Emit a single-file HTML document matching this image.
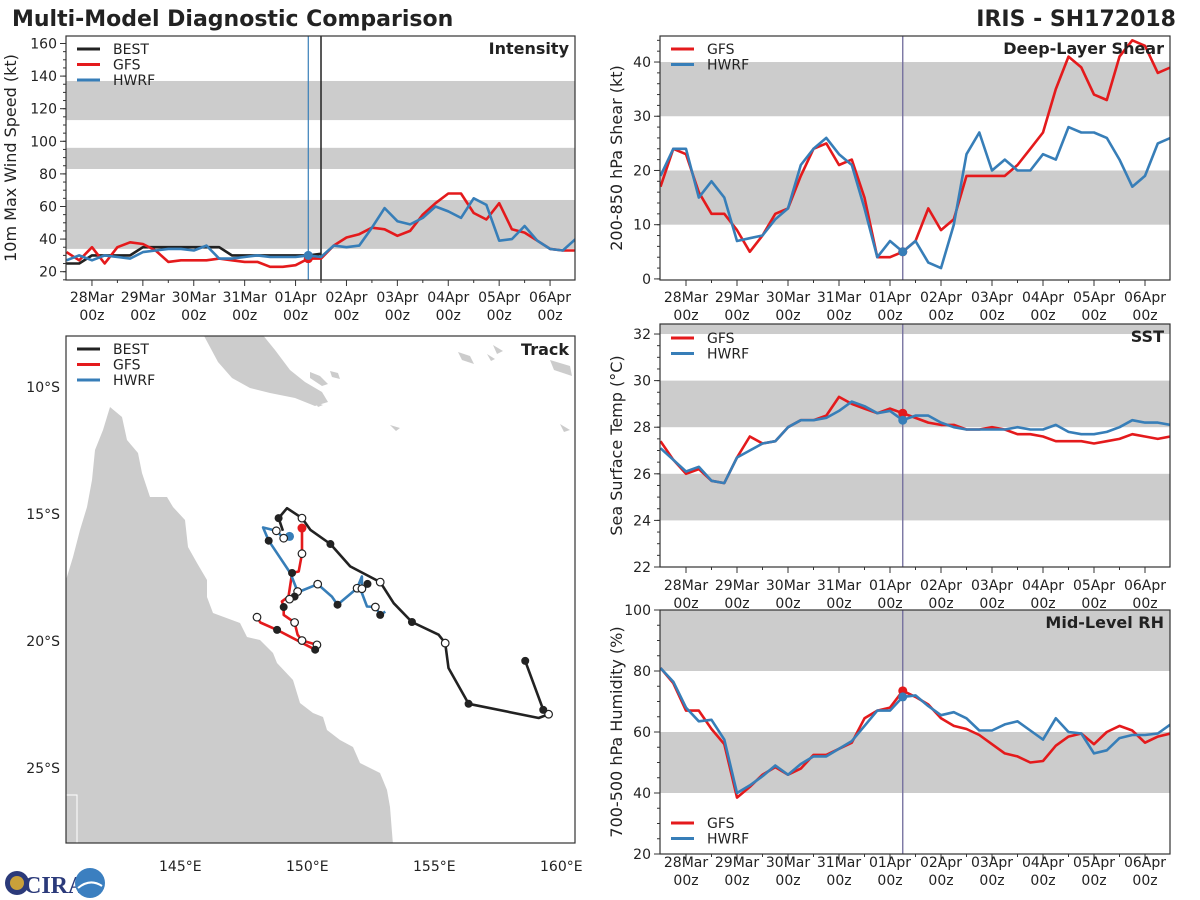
<!DOCTYPE html>
<html><head><meta charset="utf-8"><style>
html,body{margin:0;padding:0;background:#fff;}
svg{display:block;font-family:"DejaVu Sans","Liberation Sans",sans-serif;}
</style></head><body>
<svg id="chart" width="1200" height="900" viewBox="0 0 1200 900">
<rect x="0" y="0" width="1200" height="900" fill="#fff"/>
<text x="12" y="26" font-size="22" font-weight="bold" fill="#222">Multi-Model Diagnostic Comparison</text>
<text x="1176" y="26" font-size="22" font-weight="bold" fill="#222" text-anchor="end">IRIS - SH172018</text>
<g>
<circle cx="17" cy="883" r="12" fill="#2b3a7a"/>
<circle cx="17" cy="883" r="7" fill="#c9a03a"/>
<text x="24" y="893" font-size="24" font-weight="bold" fill="#2b3a7a" font-family="Liberation Serif, serif">CIRA</text>
<circle cx="90" cy="883" r="15" fill="#3b7fc0"/>
<path d="M78 888 Q90 878 102 886" stroke="#fff" stroke-width="2" fill="none"/>
</g>
</svg>
<script>
// ---------- data ----------
const dayLabels = ["28Mar","29Mar","30Mar","31Mar","01Apr","02Apr","03Apr","04Apr","05Apr","06Apr"];
const hourLabel = "00z";
const t0 = -0.5, dt = 0.25; // days since 28Mar 00z, 6-hourly

const intBest = [25,25,30,30,30,30,35,35,35,35,35,35,35,30,30,30,30,30,30,30,31];
const intGfs  = [32,27,35,25,35,38,37,33,26,27,27,27,28,27,26,26,23,23,24,28,28,36,41,43,47,46,42,45,55,62,68,68,56,52,62,46,44,39,34,33,33];
const intHwrf = [27,30,27,30,29,28,32,33,34,34,33,36,28,28,29,30,29,29,29,30,29,36,35,36,47,59,51,49,53,60,57,53,65,61,39,40,48,39,34,33,40];

const shearGfs  = [17,24,23,16,12,12,9,5,8,12,13,19,24,25,21,22,15,4,4,5,7,13,9,11,19,19,19,19,21,24,27,35,41,39,34,33,41,44,43,38,39];
const shearHwrf = [19,24,24,15,18,15,7,7.5,8,11,13,21,24,26,23,21,13,4,7,5,7,3,2,10,23,27,20,22,20,20,23,22,28,27,27,26,22,17,19,25,26];

const sstGfs  = [27.4,26.6,26.0,26.2,25.7,25.6,26.7,27.6,27.3,27.4,28.0,28.3,28.3,28.5,29.3,29.0,28.8,28.6,28.8,28.6,28.4,28.2,28.1,28.1,27.9,27.9,28.0,27.9,27.7,27.7,27.6,27.4,27.4,27.4,27.3,27.4,27.5,27.7,27.6,27.5,27.6];
const sstHwrf = [27.1,26.6,26.1,26.3,25.7,25.6,26.7,27.0,27.3,27.4,28.0,28.3,28.3,28.4,28.7,29.1,28.9,28.6,28.7,28.3,28.5,28.5,28.2,28.0,27.9,27.9,27.9,27.9,28.0,27.9,27.9,28.1,27.8,27.7,27.7,27.8,28.0,28.3,28.2,28.2,28.1];

const rhGfs  = [81,76,67,67,61,56,38.5,42,46,48.5,46,48,52.5,52.5,54.5,56.5,64.5,67,68,73.5,71.5,69,64.5,62,61,59,56,53,52,50,50.5,55.5,58.5,59.5,56,60,62,60.5,56.5,58.5,59.5];
const rhHwrf = [81,76.5,68,63.5,64,57.5,40,42.5,45.5,49,46,49.5,52,52,54.5,57,62,67,67,71.5,72,68.5,65.5,66.5,64.5,60.5,60.5,62.5,63.5,60.5,57.5,64.5,60,59.5,53,54,58,59,59,59.5,62.5];

const intTicks = [20,40,60,80,100,120,140,160];
const shearTicks = [0,10,20,30,40];
const sstTicks = [22,24,26,28,30,32];
const rhTicks = [20,40,60,80,100];

const nowDay = 4.25, bestEndDay = 4.5;

// track data (lon E, lat)
const bestLon = [149.04,148.87,149.20,149.79,150.12,150.91,151.69,152.87,153.40,154.12,155.17,155.43,155.56,156.35,159.11,159.50,159.29,158.58];
const bestLat = [-15.67,-15.17,-14.78,-15.17,-15.63,-16.19,-17.07,-17.69,-18.52,-19.26,-19.76,-20.09,-21.07,-22.48,-23.04,-22.89,-22.72,-20.79];
const bestMark = [-1,1,-1,0,-1,1,-1,0,-1,1,-1,0,-1,1,-1,0,1,1];
const gfsLon = [149.79,149.79,149.66,149.40,149.26,149.00,149.07,149.07,149.50,149.62,149.79,150.38,150.31,148.81,148.15,148.02];
const gfsLat = [-15.56,-16.57,-17.27,-17.33,-18.26,-18.45,-18.67,-18.98,-19.28,-19.76,-19.99,-20.16,-20.35,-19.57,-19.28,-19.07];
const gfsMark = [2,0,-1,1,-1,-1,1,-1,0,-1,0,0,1,1,-1,0];
const hwrfLon = [149.30,149.07,148.78,148.26,148.48,149.33,149.62,149.50,149.30,149.70,150.41,150.97,151.19,151.96,152.15,152.15,152.37,152.15,152.35,152.68,152.87,153.07];
const hwrfLat = [-15.89,-15.96,-15.67,-15.54,-16.06,-17.33,-18.06,-18.26,-18.36,-18.06,-17.77,-18.26,-18.58,-17.93,-17.47,-17.95,-17.76,-18.12,-18.65,-18.67,-18.98,-18.85];
const hwrfMark = [2,0,0,-1,1,-1,0,1,0,-1,0,-1,1,0,-1,0,1,-1,-1,0,1,-1];
const lonTicks = [145,150,155,160];
const latTicks = [-10,-15,-20,-25];

// ---------- drawing ----------
const NS = 'http://www.w3.org/2000/svg';
const svg = document.getElementById('chart');
function mk(tag, attrs, parent){const e=document.createElementNS(NS,tag);for(const k in attrs)e.setAttribute(k,attrs[k]);(parent||svg).appendChild(e);return e;}
const C = {best:'#222222', gfs:'#e41a1c', hwrf:'#377eb8', band:'#cccccc', ax:'#333333'};
const tmin = -0.51, tmax = 9.49;

function timePanel(p){
  const g = mk('g',{});
  
  
  const X = t => p.x0 + (t - tmin) / (tmax - tmin) * (p.x1 - p.x0);
  const Y = v => p.y1 - (v - p.vmin) / (p.vmax - p.vmin) * (p.y1 - p.y0);
  const cid = 'clip-' + p.name;
  const cp = mk('clipPath',{id:cid}, g);
  mk('rect',{x:p.x0,y:p.y0,width:p.x1-p.x0,height:p.y1-p.y0}, cp);
  const inner = mk('g',{'clip-path':'url(#'+cid+')'}, g);
  p.bands.forEach(b=>{
    const r = mk('rect',{x:p.x0,y:Y(b[1]),width:p.x1-p.x0,height:Y(b[0])-Y(b[1]),fill:C.band}, inner);
    
    
  });
  p.vlines.forEach(v=>{
    const l = mk('line',{x1:X(v.t),x2:X(v.t),y1:p.y0,y2:p.y1,stroke:v.c,'stroke-width':v.w}, inner);
    
    
  });
  p.series.forEach(s=>{
    const pts = s.d.map((v,i)=>X(t0+dt*i).toFixed(1)+','+Y(v).toFixed(1)).join(' ');
    const pl = mk('polyline',{points:pts,fill:'none',stroke:s.c,'stroke-width':2.6,'stroke-linejoin':'round'}, inner);
    
    
  });
  p.series.forEach(s=>{
    if(!s.dot) return;
    const i = Math.round((nowDay - t0)/dt);
    const c = mk('circle',{cx:X(nowDay),cy:Y(s.d[i]),r:4.5,fill:s.c}, inner);
    
    
  });
  const fr = mk('rect',{x:p.x0,y:p.y0,width:p.x1-p.x0,height:p.y1-p.y0,fill:'none',stroke:C.ax,'stroke-width':1.2}, g);
  
  
  // y ticks
  for(let v=Math.ceil(p.vmin/p.minor)*p.minor; v<=p.vmax+1e-6; v+=p.minor){
    mk('line',{x1:p.x0-3,x2:p.x0,y1:Y(v),y2:Y(v),stroke:C.ax,'stroke-width':1}, g);
  }
  p.ticks.forEach(v=>{
    mk('line',{x1:p.x0-6,x2:p.x0,y1:Y(v),y2:Y(v),stroke:C.ax,'stroke-width':1}, g);
    const tx = mk('text',{x:p.x0-9,y:Y(v)+5,'font-size':14,fill:'#222','text-anchor':'end'}, g);
    tx.textContent = v;
    
    
  });
  // x ticks
  for(let d=0; d<=9.5; d+=0.5){
    if(X(d)>p.x1) break;
    const major = Math.abs(d-Math.round(d))<1e-6;
    mk('line',{x1:X(d),x2:X(d),y1:p.y1,y2:p.y1+(major?6:3),stroke:C.ax,'stroke-width':1}, g);
  }
  if(p.labelY){
    dayLabels.forEach((lab,i)=>{
      const a = mk('text',{x:X(i),y:p.labelY,'font-size':14,fill:'#222','text-anchor':'middle'}, g);
      a.textContent = lab;
      
      
      const b = mk('text',{x:X(i),y:p.labelY+18,'font-size':14,fill:'#222','text-anchor':'middle'}, g);
      b.textContent = hourLabel;
      
      
    });
  }
  const yl = mk('text',{x:0,y:0,'font-size':16,fill:'#222','text-anchor':'middle',transform:'translate('+p.ylx+','+((p.y0+p.y1)/2)+') rotate(-90)'}, g);
  yl.textContent = p.ylabel;
  
  
  const tt = mk('text',{x:p.x1-6,y:p.y0+18,'font-size':16,'font-weight':'bold',fill:'#222','text-anchor':'end'}, g);
  tt.textContent = p.title;
  
  
  legend(g, p.x0, p.legY, p.series);
}
function legend(g, x0, y, series){
  series.forEach((s,i)=>{
    const lg = mk('g',{}, g);
    
    
    mk('line',{x1:x0+11,x2:x0+34,y1:y+i*15.5,y2:y+i*15.5,stroke:s.c,'stroke-width':3}, lg);
    const t = mk('text',{x:x0+47,y:y+i*15.5+5,'font-size':14,fill:'#222'}, lg);
    t.textContent = s.label;
  });
}

timePanel({name:'intensity-panel',x0:66,x1:575,y0:36,y1:280,vmin:14.9,vmax:164.6,minor:5,ticks:intTicks,
  bands:[[34,64],[83,96],[113,137]],
  vlines:[{t:nowDay,c:C.hwrf,w:1.2,n:'current-time-line'},{t:bestEndDay,c:'#222',w:1.5,n:'best-track-end-line'}],
  series:[{n:'best',label:'BEST',c:C.best,d:intBest},{n:'gfs',label:'GFS',c:C.gfs,d:intGfs,dot:true},{n:'hwrf',label:'HWRF',c:C.hwrf,d:intHwrf,dot:true}],
  labelY:302,ylx:16,ylabel:'10m Max Wind Speed (kt)',title:'Intensity',legY:49});
timePanel({name:'shear-panel',x0:660,x1:1170,y0:36,y1:280,vmin:-0.2,vmax:44.8,minor:2,ticks:shearTicks,
  bands:[[10,20],[30,40]],
  vlines:[{t:nowDay,c:'#6f6a9a',w:1.3,n:'current-time-line'}],
  series:[{n:'gfs',label:'GFS',c:C.gfs,d:shearGfs,dot:true},{n:'hwrf',label:'HWRF',c:C.hwrf,d:shearHwrf,dot:true}],
  labelY:302,ylx:622,ylabel:'200-850 hPa Shear (kt)',title:'Deep-Layer Shear',legY:49});
timePanel({name:'sst-panel',x0:660,x1:1170,y0:324,y1:567,vmin:22,vmax:32.43,minor:0.5,ticks:sstTicks,
  bands:[[24,26],[28,30],[32,34]],
  vlines:[{t:nowDay,c:'#6f6a9a',w:1.3,n:'current-time-line'}],
  series:[{n:'gfs',label:'GFS',c:C.gfs,d:sstGfs,dot:true},{n:'hwrf',label:'HWRF',c:C.hwrf,d:sstHwrf,dot:true}],
  labelY:590,ylx:622,ylabel:'Sea Surface Temp (°C)',title:'SST',legY:338});
timePanel({name:'rh-panel',x0:660,x1:1170,y0:610,y1:854,vmin:20,vmax:100,minor:5,ticks:rhTicks,
  bands:[[40,60],[80,100]],
  vlines:[{t:nowDay,c:'#6f6a9a',w:1.3,n:'current-time-line'}],
  series:[{n:'gfs',label:'GFS',c:C.gfs,d:rhGfs,dot:true},{n:'hwrf',label:'HWRF',c:C.hwrf,d:rhHwrf,dot:true}],
  labelY:867,ylx:622,ylabel:'700-500 hPa Humidity (%)',title:'Mid-Level RH',legY:823});

// ---------- track map ----------
(function(){
  const p = {x0:66,x1:575,y0:336,y1:843};
  const LX = lon => p.x0 + (lon - 140.5) * 25.4;
  const LY = lat => p.y0 + (-8 - lat) * 25.4;
  const g = mk('g',{});
  
  
  const cp = mk('clipPath',{id:'clip-track'}, g);
  mk('rect',{x:p.x0,y:p.y0,width:p.x1-p.x0,height:p.y1-p.y0}, cp);
  const inner = mk('g',{'clip-path':'url(#clip-track)'}, g);
  const aus = mk('polygon',{fill:'#cccccc',points:'66,580 73,557 80,530 87,507 92,480 95,450 103,430 110,407 122,417 127,440 138,453 142,473 150,497 167,497 173,507 185,520 188,547 197,563 207,580 207,597 213,613 240,623 247,637 260,640 273,653 277,663 293,680 300,703 313,713 323,717 327,730 340,740 353,747 360,763 380,773 387,790 390,807 393,845 66,845'}, inner);
  
  
  const png = mk('polygon',{fill:'#cccccc',points:'203,334 262,334 275,350 290,370 305,382 322,392 328,402 315,406 295,398 270,393 250,388 232,378 218,362'}, inner);
  
  
  const isl = mk('path',{fill:'#cccccc',d:'M310 372 l10 4 l8 8 l-6 2 l-12 -8z M330 371 l8 2 l2 6 l-8 -2z M315 402 l8 3 l-5 2z M390 425 l10 3 l-4 3z M458 352 l12 4 l4 8 l-12 -4z M493 345 l10 6 l-6 3z M550 360 l20 6 l2 10 l-18 -6z M560 424 l10 6 l-6 2z M487 354 l8 5 l-4 2z'}, inner);
  
  
  mk('rect',{x:66,y:795,width:11,height:50,fill:'none',stroke:'#fff','stroke-width':1}, inner);
  const tracks = [
    {n:'best',label:'BEST',c:C.best,lon:bestLon,lat:bestLat,m:bestMark},
    {n:'gfs',label:'GFS',c:C.gfs,lon:gfsLon,lat:gfsLat,m:gfsMark},
    {n:'hwrf',label:'HWRF',c:C.hwrf,lon:hwrfLon,lat:hwrfLat,m:hwrfMark}
  ];
  tracks.forEach(tr=>{
    const pts = tr.lon.map((lo,i)=>LX(lo).toFixed(1)+','+LY(tr.lat[i]).toFixed(1)).join(' ');
    const pl = mk('polyline',{points:pts,fill:'none',stroke:tr.c,'stroke-width':2.6,'stroke-linejoin':'round'}, inner);
    
    
  });
  tracks.forEach(tr=>{
    tr.m.forEach((m,i)=>{
      if(m<0) return;
      const at = {cx:LX(tr.lon[i]),cy:LY(tr.lat[i]),r:4};
      if(m===0){at.fill='#fff';at.stroke='#222';at['stroke-width']=1.2;at.r=3.8;}
      else if(m===1){at.fill='#222';}
      else {at.fill=tr.c;at.r=4.5;}
      const c = mk('circle',at, inner);
      
      
    });
  });
  const fr = mk('rect',{x:p.x0,y:p.y0,width:p.x1-p.x0,height:p.y1-p.y0,fill:'none',stroke:C.ax,'stroke-width':1.2}, g);
  
  
  lonTicks.forEach(lo=>{
    const t = mk('text',{x:LX(lo),y:871,'font-size':14,fill:'#222','text-anchor':'middle'}, g);
    t.textContent = lo + '°E';
    
    
  });
  latTicks.forEach(la=>{
    const t = mk('text',{x:60,y:LY(la)+5,'font-size':14,fill:'#222','text-anchor':'end'}, g);
    t.textContent = Math.abs(la) + '°S';
    
    
  });
  const tt = mk('text',{x:p.x1-6,y:p.y0+19,'font-size':16,'font-weight':'bold',fill:'#222','text-anchor':'end'}, g);
  tt.textContent = 'Track';
  
  
  legend(g, p.x0, 349, tracks);
})();
</script>
</body></html>
